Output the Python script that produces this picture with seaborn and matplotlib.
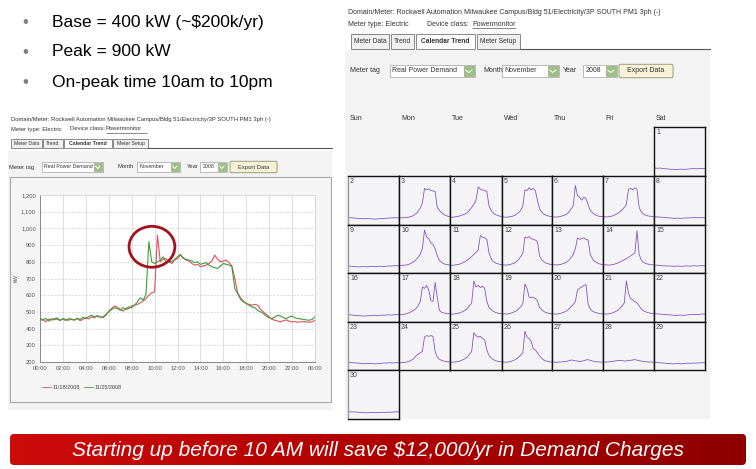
import numpy as np
import pandas as pd
import matplotlib
matplotlib.use("Agg")
import matplotlib.pyplot as plt
import seaborn as sns
from matplotlib.patches import Rectangle, Ellipse, FancyBboxPatch
from matplotlib.colors import LinearSegmentedColormap

W, H = 756, 469

# ---------------- text content ----------------
bullets = ["Base = 400 kW (~$200k/yr)", "Peak = 900 kW", "On-peak time 10am to 10pm"]
banner_text = "Starting up before 10 AM will save $12,000/yr in Demand Charges"
header_line1 = "Domain/Meter: Rockwell Automation Milwaukee Campus/Bldg 51/Electricity/3P SOUTH PM1 3ph (-)"
meter_type = "Meter type: Electric"
device_class = "Device class: "
device_link = "Powermonitor"
tabs = ["Meter Data", "Trend", "Calendar Trend", "Meter Setup"]
ctrl_labels = ["Meter tag", "Month", "Year"]
ctrl_values = ["Real Power Demand", "November", "2008"]
export_label = "Export Data"

# ---------------- main trend chart data ----------------
series_labels = ["11/18/2008", "11/25/2008"]
hours = [i * 0.25 for i in range(97)]
kw_1118 = [460, 455, 440, 458, 450, 462, 455, 448, 460, 455, 450, 458, 452, 460, 448, 455,
           465, 458, 470, 465, 478, 470, 465, 480, 505, 520, 535, 528, 515, 505, 520, 530,
           525, 540, 545, 555, 565, 580, 600, 615, 620, 960, 800, 815, 820, 800, 790, 810,
           820, 840, 825, 810, 805, 790, 780, 785, 770, 775, 780, 790, 805, 840, 815, 800,
           805, 810, 795, 775, 700, 615, 585, 565, 550, 545, 540, 545, 540, 515, 500, 485,
           470, 455, 450, 445, 440, 448, 452, 445, 440, 442, 438, 440, 442, 440, 438, 440, 450]
kw_1125 = [455, 450, 462, 445, 458, 452, 465, 450, 458, 448, 460, 455, 450, 462, 455, 468,
           460, 472, 480, 470, 475, 468, 470, 485, 500, 515, 525, 520, 510, 525, 515, 520,
           535, 540, 560, 585, 570, 605, 920, 800, 790, 800, 810, 830, 800, 805, 800, 815,
           830, 845, 820, 815, 810, 805, 795, 800, 785, 790, 795, 780, 770, 765, 760, 775,
           790, 785, 780, 770, 640, 610, 575, 560, 550, 540, 530, 525, 510, 500, 490, 475,
           465, 460, 470, 480, 475, 465, 460, 470, 475, 465, 460, 458, 455, 452, 450, 455, 470]
y_ticks = [200, 300, 400, 500, 600, 700, 800, 900, 1000, 1100, 1200]
y_tick_labels = ["200", "300", "400", "500", "600", "700", "800", "900", "1,000", "1,100", "1,200"]
x_ticks = [0, 2, 4, 6, 8, 10, 12, 14, 16, 18, 20, 22, 24]
x_tick_labels = ["00:00", "02:00", "04:00", "06:00", "08:00", "10:00", "12:00",
                 "14:00", "16:00", "18:00", "20:00", "22:00", "00:00"]

# ---------------- calendar data (hourly kW, Nov 2008) ----------------
weekdays = ["Sun", "Mon", "Tue", "Wed", "Thu", "Fri", "Sat"]
cal_hours = list(range(25))
day_profiles = {
    1: [470, 468, 465, 470, 462, 460, 458, 455, 450, 452, 448, 450, 452, 455, 450, 452, 455, 458, 460, 462, 458, 462, 465, 460, 462],
    2: [462, 460, 458, 455, 452, 450, 448, 446, 445, 448, 446, 444, 442, 440, 444, 446, 448, 450, 452, 455, 456, 458, 460, 458, 455],
    3: [455, 460, 458, 462, 465, 470, 478, 495, 515, 545, 590, 660, 860, 840, 855, 830, 825, 820, 600, 560, 530, 505, 490, 480, 475],
    4: [470, 465, 470, 475, 480, 490, 500, 510, 530, 560, 600, 640, 700, 880, 850, 840, 830, 820, 620, 560, 520, 500, 490, 480, 478],
    5: [478, 470, 465, 470, 475, 480, 490, 510, 530, 560, 620, 840, 830, 870, 840, 860, 830, 700, 580, 540, 510, 495, 485, 478, 475],
    6: [475, 470, 468, 472, 478, 485, 495, 510, 540, 580, 620, 900, 760, 740, 700, 740, 720, 640, 560, 530, 505, 490, 480, 478, 476],
    7: [476, 472, 470, 475, 480, 490, 505, 520, 540, 570, 600, 640, 850, 860, 840, 870, 850, 600, 540, 510, 495, 485, 480, 478, 476],
    8: [476, 472, 470, 468, 465, 462, 460, 458, 455, 452, 450, 455, 452, 450, 455, 458, 455, 460, 458, 462, 460, 458, 462, 460, 458],
    9: [458, 455, 452, 450, 448, 445, 447, 450, 448, 446, 449, 452, 450, 448, 452, 455, 452, 450, 455, 458, 456, 460, 462, 460, 462],
    10: [462, 465, 468, 470, 475, 485, 500, 520, 545, 580, 620, 700, 960, 860, 840, 780, 760, 700, 600, 540, 510, 490, 480, 475, 470],
    11: [470, 468, 470, 475, 480, 490, 505, 520, 540, 560, 590, 620, 650, 680, 880, 860, 850, 830, 640, 560, 520, 500, 490, 480, 475],
    12: [475, 472, 470, 475, 480, 490, 500, 520, 550, 590, 630, 860, 850, 870, 840, 830, 820, 800, 600, 550, 520, 500, 490, 482, 478],
    13: [478, 475, 472, 475, 480, 488, 498, 515, 540, 575, 620, 700, 850, 830, 840, 850, 830, 820, 620, 560, 525, 505, 490, 482, 478],
    14: [478, 475, 472, 470, 475, 480, 490, 500, 515, 530, 545, 560, 580, 600, 620, 640, 950, 620, 540, 510, 495, 485, 480, 475, 472],
    15: [472, 470, 468, 465, 462, 460, 458, 460, 455, 452, 455, 458, 455, 452, 456, 460, 458, 455, 460, 462, 458, 460, 463, 462, 460],
    16: [460, 458, 455, 452, 450, 446, 444, 442, 440, 445, 448, 446, 450, 452, 448, 450, 455, 452, 456, 458, 455, 458, 460, 462, 460],
    17: [460, 462, 465, 470, 478, 490, 505, 520, 545, 580, 640, 840, 820, 860, 800, 650, 640, 900, 700, 520, 495, 485, 478, 472, 470],
    18: [470, 468, 470, 475, 480, 490, 505, 520, 545, 580, 620, 920, 840, 860, 830, 850, 820, 640, 560, 530, 505, 490, 482, 476, 472],
    19: [472, 470, 468, 472, 478, 488, 500, 515, 540, 570, 610, 880, 820, 700, 690, 700, 680, 650, 560, 530, 505, 490, 482, 476, 472],
    20: [472, 470, 468, 472, 478, 488, 500, 515, 540, 570, 600, 640, 800, 820, 840, 860, 870, 600, 540, 510, 495, 485, 478, 474, 470],
    21: [470, 468, 470, 475, 480, 490, 505, 520, 545, 580, 620, 920, 750, 680, 660, 640, 620, 580, 540, 515, 500, 490, 482, 478, 475],
    22: [475, 472, 470, 468, 465, 462, 460, 458, 455, 452, 450, 452, 455, 452, 450, 455, 458, 460, 462, 460, 465, 462, 468, 470, 468],
    23: [468, 465, 462, 460, 458, 455, 452, 450, 448, 450, 452, 450, 448, 446, 450, 452, 455, 458, 456, 460, 462, 458, 460, 462, 460],
    24: [460, 462, 465, 468, 475, 485, 500, 520, 560, 580, 600, 620, 820, 840, 830, 840, 830, 620, 540, 510, 495, 485, 478, 474, 470],
    25: [470, 468, 470, 475, 480, 490, 505, 520, 545, 580, 620, 880, 840, 820, 830, 800, 780, 640, 560, 530, 505, 490, 482, 476, 472],
    26: [472, 470, 468, 472, 478, 488, 500, 515, 540, 570, 600, 900, 820, 800, 760, 660, 640, 600, 560, 525, 500, 488, 480, 475, 472],
    27: [472, 470, 468, 470, 472, 475, 478, 482, 490, 500, 495, 488, 485, 480, 482, 490, 500, 505, 495, 485, 478, 475, 472, 470, 468],
    28: [468, 470, 472, 475, 478, 482, 488, 492, 495, 490, 485, 488, 492, 495, 500, 505, 498, 490, 485, 480, 476, 474, 472, 470, 468],
    29: [468, 465, 462, 460, 458, 455, 452, 450, 448, 445, 447, 450, 448, 446, 450, 452, 455, 452, 456, 458, 455, 458, 460, 462, 460],
    30: [460, 458, 456, 458, 455, 452, 450, 448, 446, 445, 447, 449, 448, 446, 448, 450, 452, 450, 452, 454, 452, 455, 456, 458, 458],
}

# ---------------- style ----------------
sns.set_theme(style="white")
plt.rcParams["font.family"] = ["Liberation Sans", "DejaVu Sans"]
RED = "#e0505a"
GREEN = "#3c9c3c"
PURPLE = "#8456c4"
UI_TEXT = "#333333"


def rect(x0, y0, x1, y1):
    return [x0 / W, 1 - y1 / H, (x1 - x0) / W, (y1 - y0) / H]


fig = plt.figure(figsize=(W / 100, H / 100), dpi=100)
fig.patch.set_facecolor("white")

bg = fig.add_axes([0, 0, 1, 1], zorder=0)
bg.set_xlim(0, W)
bg.set_ylim(H, 0)
bg.axis("off")

# ---- bullets ----
for i, b in enumerate(bullets):
    y = 22 + 30 * i
    bg.text(25, y, "\u2022", fontsize=12, color="#7f7f7f", va="center", ha="center")
    bg.text(52, y, b, fontsize=12.5, color="black", va="center", ha="left")


def ui_panel(x0, x1, y_h1, y_h2, dc_x, lk_x, lk_x1, y_tab0, y_tab1, tab_x, tab_fs,
             y_ctrl, ctrl_pos, gray_y0, gray_y1, fs, val_fs):
    bg.add_patch(Rectangle((x0, gray_y0), x1 - x0, gray_y1 - gray_y0, facecolor="#f3f3f3",
                           edgecolor="none", zorder=0))
    bg.text(x0 + 3, y_h1, header_line1, fontsize=fs, color=UI_TEXT, va="center")
    bg.text(x0 + 3, y_h2, meter_type, fontsize=fs, color=UI_TEXT, va="center")
    bg.text(dc_x, y_h2, device_class, fontsize=fs, color=UI_TEXT, va="center")
    bg.text(lk_x, y_h2, device_link, fontsize=fs, color=UI_TEXT, va="center")
    bg.plot([lk_x, lk_x1], [y_h2 + fs * 0.9, y_h2 + fs * 0.9], color=UI_TEXT, lw=0.4)
    # tabs
    for name, (tx0, tx1) in zip(tabs, tab_x):
        active = name == "Calendar Trend"
        bg.add_patch(Rectangle((tx0, y_tab0), tx1 - tx0, y_tab1 - y_tab0,
                               facecolor="white" if active else "#f0f0f0",
                               edgecolor="#777777", lw=0.6, zorder=2))
        bg.text((tx0 + tx1) / 2, (y_tab0 + y_tab1) / 2 + 0.3, name, fontsize=tab_fs,
                color=UI_TEXT, ha="center", va="center",
                fontweight="bold" if active else "normal", zorder=3)
    bg.plot([tab_x[3][1], x1], [y_tab1, y_tab1], color="#555555", lw=0.8, zorder=3)
    # controls
    (lx, bx0, bx1), (mlx, mx0, mx1), (ylx, yx0, yx1), (ex0, ex1) = ctrl_pos
    hh = fs * 1.25
    for lab, labx, val, b0, b1 in [(ctrl_labels[0], lx, ctrl_values[0], bx0, bx1),
                                     (ctrl_labels[1], mlx, ctrl_values[1], mx0, mx1),
                                     (ctrl_labels[2], ylx, ctrl_values[2], yx0, yx1)]:
        bg.text(labx, y_ctrl, lab, fontsize=fs, color=UI_TEXT, va="center", zorder=3)
        bg.add_patch(Rectangle((b0, y_ctrl - hh), b1 - b0, 2 * hh, facecolor="white",
                               edgecolor="#a0a0a0", lw=0.5, zorder=2))
        bg.text(b0 + 2.5, y_ctrl, val, fontsize=val_fs, color=UI_TEXT, va="center", zorder=3)
        s = 2 * hh - 2
        bg.add_patch(Rectangle((b1 - s - 1, y_ctrl - hh + 1), s, s, facecolor="#9fbf84",
                               edgecolor="#7f9f6a", lw=0.4, zorder=3))
        bg.plot([b1 - s + 1, b1 - 1 - s / 2, b1 - 3], [y_ctrl - 1, y_ctrl + 1.5, y_ctrl - 1],
                color="white", lw=0.7, zorder=4)
    bg.add_patch(FancyBboxPatch((ex0, y_ctrl - hh - 0.5), ex1 - ex0, 2 * hh + 1,
                                boxstyle="round,pad=0,rounding_size=1.5",
                                facecolor="#f6f2d6", edgecolor="#8f8f70", lw=0.6, zorder=2))
    bg.text((ex0 + ex1) / 2, y_ctrl, export_label, fontsize=fs, color=UI_TEXT,
            ha="center", va="center", zorder=3)


# left panel UI
ui_panel(8, 332, 119, 129, 70, 106, 147, 139, 148,
         [(11, 42), (43, 63), (64, 112), (113, 148)], 3.7,
         167, [(9, 42, 103), (118, 137, 180), (187, 200, 227), (230, 277)],
         151, 410, 4.2, 3.8)
# right panel UI
ui_panel(345, 710, 12, 24, 427, 472, 516, 34, 49,
         [(351, 389), (391, 414), (416, 475), (477, 520)], 4.8,
         71, [(350, 390, 475), (483, 502, 559), (563, 583, 617), (619, 673)],
         50, 419, 5.0, 5.0)

# ---- left chart box ----
bg.add_patch(Rectangle((10, 177), 321, 225, facecolor="#f5f5f5", edgecolor="#a8a8a8",
                       lw=0.8, zorder=1))
bg.text(16, 278, "kW", fontsize=4, color="#555555", rotation=90, ha="center", va="center", zorder=2)

ax = fig.add_axes(rect(40, 195, 315, 362), zorder=2)
df = pd.DataFrame({
    "hour": hours * 2,
    "kW": kw_1118 + kw_1125,
    "date": [series_labels[0]] * len(hours) + [series_labels[1]] * len(hours),
})
sns.lineplot(data=df, x="hour", y="kW", hue="date", hue_order=series_labels,
             palette=[RED, GREEN], linewidth=0.8, ax=ax)
ax.set_facecolor("white")
ax.set_xlim(0, 24)
ax.set_ylim(200, 1200)
ax.set_xticks(x_ticks)
ax.set_xticklabels(x_tick_labels)
ax.set_yticks(y_ticks)
ax.set_yticklabels(y_tick_labels)
ax.tick_params(axis="both", labelsize=4.2, colors="#555555", length=1.5, width=0.4, pad=1.5)
ax.set_xlabel("")
ax.set_ylabel("")
for ytk in y_ticks[1:-1]:
    ax.axhline(ytk, color="#cccccc", lw=0.5, ls=(0, (3, 2)), zorder=0)
for xtk in x_ticks[1:-1]:
    ax.axvline(xtk, color="#d2d2d2", lw=0.5, zorder=0)
for sp in ["top", "right"]:
    ax.spines[sp].set_color("#cccccc")
    ax.spines[sp].set_linewidth(0.5)
for sp in ["left", "bottom"]:
    ax.spines[sp].set_color("#777777")
    ax.spines[sp].set_linewidth(0.6)
leg = ax.legend(loc="center left", bbox_to_anchor=(-0.01, -0.155), ncol=2, fontsize=4,
                frameon=False, handlelength=1.6, columnspacing=0.6, handletextpad=0.3)
for t in leg.get_texts():
    t.set_color("#444444")
for line in leg.get_lines():
    line.set_linewidth(0.6)

# highlight circle around the peaks
ax.add_patch(Ellipse((9.77, 890), 4.0, 245, fill=False, edgecolor="#a3121f", lw=2.0,
                     clip_on=False, zorder=5))

# ---- calendar ----
col_left = [348, 399, 450, 502, 552, 603, 654, 705]
row_top = [127, 176, 225, 273, 322, 370, 419]
for c, name in enumerate(weekdays):
    bg.text(col_left[c] + 2, 118, name, fontsize=5, color=UI_TEXT, va="center", zorder=2)

for day, prof in day_profiles.items():
    idx = day + 5
    r, c = idx // 7, idx % 7
    cax = fig.add_axes(rect(col_left[c], row_top[r], col_left[c + 1], row_top[r + 1]), zorder=2)
    cax.set_facecolor("#f4f4f6")
    sns.lineplot(x=cal_hours, y=prof, ax=cax, color=PURPLE, linewidth=0.6)
    cax.set_xlim(0, 24)
    cax.set_ylim(360, 1030)
    cax.set_xticks([])
    cax.set_yticks([])
    cax.set_xlabel("")
    cax.set_ylabel("")
    for sp in cax.spines.values():
        sp.set_visible(True)
        sp.set_color("#111111")
        sp.set_linewidth(1.0)
    if c == 0:
        cax.spines["left"].set_color("#999999")
    cax.text(0.04, 0.95, str(day), transform=cax.transAxes, fontsize=5, color="#444444",
             va="top", ha="left")

# ---- banner ----
banner = FancyBboxPatch((10, 434), 736, 31, boxstyle="round,pad=0,rounding_size=4",
                        facecolor="none", edgecolor="none", zorder=3)
bg.add_patch(banner)
cmap = LinearSegmentedColormap.from_list("ban", ["#cc0b0b", "#b00000", "#8e0000"])
grad = np.linspace(0, 1, 256).reshape(1, -1)
im = bg.imshow(grad, extent=(10, 746, 465, 434), aspect="auto", cmap=cmap, zorder=2)
im.set_clip_path(banner)
bg.set_xlim(0, W)
bg.set_ylim(H, 0)
bg.text(378, 450, banner_text, fontsize=15, color="white", style="italic",
        ha="center", va="center", zorder=4)

fig.savefig("out.png", dpi=100)
